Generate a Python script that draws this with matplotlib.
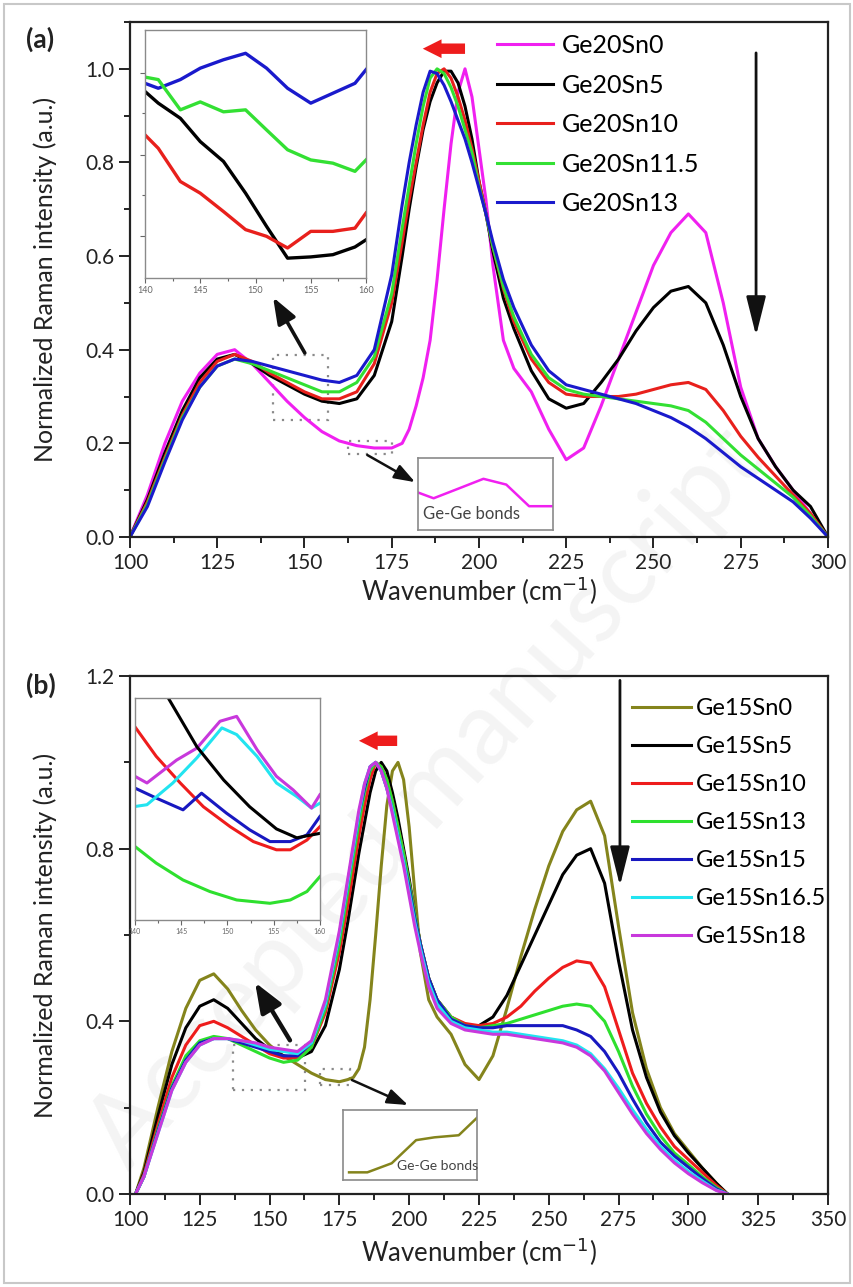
import matplotlib
matplotlib.use('Agg')
import matplotlib.pyplot as plt
from matplotlib.patches import Rectangle, FancyArrowPatch
from matplotlib.ticker import MultipleLocator

plt.rcParams['font.family'] = ['Lato', 'DejaVu Sans']

# ---------------- panel (a) data ----------------
x_a = [100, 105, 110, 115, 120, 125, 130, 135, 140, 145, 150, 155, 160, 165, 170, 175,
       178, 180, 182, 184, 186, 188, 190, 192, 194, 196, 198, 200, 202, 204, 207, 210,
       215, 220, 225, 230, 235, 240, 245, 250, 255, 260, 265, 270, 275, 280, 285, 290,
       295, 300]
ge20sn0 = [0.0, 0.09, 0.2, 0.29, 0.35, 0.39, 0.40, 0.37, 0.33, 0.29, 0.255, 0.225, 0.205,
           0.195, 0.19, 0.19, 0.2, 0.23, 0.28, 0.34, 0.42, 0.55, 0.70, 0.84, 0.95, 1.0,
           0.94, 0.83, 0.72, 0.58, 0.42, 0.36, 0.31, 0.23, 0.165, 0.19, 0.28, 0.38, 0.48,
           0.58, 0.65, 0.69, 0.65, 0.50, 0.32, 0.21, 0.15, 0.10, 0.05, 0.0]
ge20sn5 = [0.0, 0.08, 0.18, 0.27, 0.34, 0.38, 0.39, 0.37, 0.345, 0.325, 0.305, 0.29, 0.285,
           0.295, 0.345, 0.46, 0.6, 0.7, 0.79, 0.87, 0.93, 0.97, 0.995, 0.995, 0.97, 0.92,
           0.85, 0.76, 0.69, 0.61, 0.51, 0.445, 0.355, 0.295, 0.275, 0.285, 0.33, 0.38,
           0.44, 0.49, 0.525, 0.535, 0.5, 0.41, 0.3, 0.21, 0.15, 0.1, 0.065, 0.0]
ge20sn10 = [0.0, 0.075, 0.17, 0.26, 0.33, 0.375, 0.39, 0.375, 0.35, 0.33, 0.31, 0.295, 0.295,
            0.31, 0.37, 0.5, 0.63, 0.72, 0.8, 0.88, 0.95, 0.99, 1.0, 0.98, 0.94, 0.89, 0.83,
            0.76, 0.69, 0.62, 0.53, 0.46, 0.38, 0.33, 0.305, 0.3, 0.3, 0.3, 0.305, 0.315,
            0.325, 0.33, 0.315, 0.27, 0.215, 0.17, 0.13, 0.09, 0.05, 0.0]
ge20sn11_5 = [0.0, 0.07, 0.165, 0.255, 0.32, 0.365, 0.38, 0.37, 0.355, 0.34, 0.325, 0.31,
              0.31, 0.33, 0.385, 0.52, 0.66, 0.75, 0.84, 0.92, 0.98, 1.0, 0.99, 0.96, 0.92,
              0.87, 0.82, 0.75, 0.69, 0.62, 0.535, 0.47, 0.39, 0.34, 0.315, 0.305, 0.3,
              0.295, 0.29, 0.285, 0.28, 0.27, 0.245, 0.21, 0.175, 0.145, 0.115, 0.085,
              0.045, 0.0]
ge20sn13 = [0.0, 0.065, 0.16, 0.25, 0.32, 0.365, 0.38, 0.375, 0.365, 0.355, 0.345, 0.335,
            0.33, 0.345, 0.4, 0.56, 0.71, 0.8, 0.88, 0.95, 0.995, 0.99, 0.965, 0.93, 0.89,
            0.85, 0.8, 0.745, 0.69, 0.63, 0.55, 0.49, 0.41, 0.355, 0.325, 0.315, 0.305,
            0.295, 0.285, 0.27, 0.255, 0.235, 0.21, 0.18, 0.15, 0.125, 0.1, 0.075, 0.04, 0.0]
labels_a = ['Ge20Sn0', 'Ge20Sn5', 'Ge20Sn10', 'Ge20Sn11.5', 'Ge20Sn13']
colors_a = ['#f020f0', '#000000', '#e8201c', '#33e033', '#1a1acc']

# zoom inset (a), 140-160 cm-1, arbitrary units
xin_a = [140, 141.2, 143.2, 145, 147.1, 149.1, 151, 152.9, 155, 157, 159, 160]
in_a_blue = [0.785, 0.765, 0.80, 0.846, 0.88, 0.906, 0.846, 0.765, 0.705, 0.745, 0.785, 0.84]
in_a_green = [0.81, 0.80, 0.678, 0.71, 0.67, 0.678, 0.597, 0.517, 0.476, 0.463, 0.43, 0.476]
in_a_black = [0.752, 0.705, 0.644, 0.55, 0.47, 0.342, 0.208, 0.08, 0.085, 0.094, 0.125, 0.154]
in_a_red = [0.577, 0.523, 0.389, 0.342, 0.268, 0.195, 0.168, 0.121, 0.188, 0.188, 0.201, 0.262]

# Ge-Ge bonds inset (a)
xgg_a = [165, 166.5, 169, 171.3, 173.5, 175.7, 178]
ygg_a = [0.52, 0.44, 0.58, 0.71, 0.63, 0.33, 0.33]

# ---------------- panel (b) data ----------------
x_b = [102, 105, 110, 115, 120, 125, 130, 135, 140, 145, 150, 155, 160, 165, 170, 175,
       178, 180, 182, 184, 186, 188, 190, 192, 194, 196, 198, 200, 202, 204, 207, 210,
       215, 220, 225, 230, 235, 240, 245, 250, 255, 260, 265, 270, 275, 280, 285, 290,
       295, 300, 305, 310, 314]
ge15sn0 = [0.0, 0.06, 0.2, 0.33, 0.43, 0.495, 0.51, 0.475, 0.425, 0.38, 0.345, 0.32, 0.3,
           0.28, 0.265, 0.26, 0.265, 0.27, 0.29, 0.34, 0.45, 0.6, 0.76, 0.9, 0.98, 1.0,
           0.96, 0.85, 0.7, 0.56, 0.45, 0.41, 0.37, 0.3, 0.265, 0.32, 0.43, 0.55, 0.66,
           0.76, 0.84, 0.89, 0.91, 0.83, 0.62, 0.42, 0.29, 0.2, 0.14, 0.1, 0.06, 0.025, 0.0]
ge15sn5 = [0.0, 0.05, 0.18, 0.3, 0.385, 0.435, 0.45, 0.43, 0.395, 0.36, 0.335, 0.32, 0.315,
           0.33, 0.39, 0.52, 0.63, 0.71, 0.79, 0.86, 0.93, 0.98, 1.0, 0.98, 0.93, 0.87, 0.8,
           0.73, 0.65, 0.58, 0.5, 0.45, 0.41, 0.39, 0.39, 0.41, 0.46, 0.53, 0.6, 0.67,
           0.74, 0.785, 0.8, 0.72, 0.54, 0.38, 0.27, 0.19, 0.135, 0.095, 0.06, 0.025, 0.0]
ge15sn10 = [0.0, 0.045, 0.16, 0.27, 0.345, 0.39, 0.4, 0.385, 0.365, 0.345, 0.325, 0.315,
            0.315, 0.34, 0.42, 0.56, 0.67, 0.75, 0.83, 0.9, 0.96, 1.0, 0.99, 0.96, 0.91,
            0.85, 0.79, 0.72, 0.65, 0.58, 0.5, 0.45, 0.41, 0.395, 0.39, 0.395, 0.41, 0.435,
            0.47, 0.5, 0.525, 0.54, 0.535, 0.48, 0.38, 0.28, 0.21, 0.155, 0.11, 0.08,
            0.05, 0.02, 0.0]
ge15sn13 = [0.0, 0.04, 0.15, 0.25, 0.32, 0.355, 0.365, 0.36, 0.345, 0.33, 0.315, 0.305,
            0.31, 0.34, 0.43, 0.58, 0.7, 0.78, 0.86, 0.93, 0.98, 1.0, 0.99, 0.96, 0.91,
            0.85, 0.79, 0.72, 0.65, 0.58, 0.5, 0.45, 0.41, 0.39, 0.385, 0.39, 0.395, 0.405,
            0.415, 0.425, 0.435, 0.44, 0.435, 0.4, 0.33, 0.25, 0.185, 0.135, 0.095, 0.068,
            0.04, 0.015, 0.0]
ge15sn15 = [0.0, 0.04, 0.145, 0.245, 0.31, 0.35, 0.36, 0.36, 0.35, 0.34, 0.33, 0.32, 0.32,
            0.35, 0.44, 0.6, 0.72, 0.8, 0.88, 0.94, 0.99, 1.0, 0.98, 0.94, 0.89, 0.83,
            0.77, 0.71, 0.64, 0.58, 0.5, 0.45, 0.405, 0.39, 0.385, 0.385, 0.39, 0.39,
            0.39, 0.39, 0.39, 0.38, 0.365, 0.33, 0.28, 0.22, 0.165, 0.12, 0.088, 0.062,
            0.036, 0.012, 0.0]
ge15sn16_5 = [0.0, 0.04, 0.14, 0.24, 0.305, 0.345, 0.36, 0.36, 0.355, 0.345, 0.335, 0.33,
              0.325, 0.35, 0.44, 0.6, 0.72, 0.8, 0.88, 0.95, 0.99, 1.0, 0.98, 0.94, 0.89,
              0.83, 0.77, 0.7, 0.63, 0.57, 0.49, 0.44, 0.4, 0.385, 0.38, 0.375, 0.375,
              0.37, 0.365, 0.36, 0.355, 0.345, 0.325, 0.29, 0.245, 0.195, 0.15, 0.11,
              0.078, 0.052, 0.03, 0.009, 0.0]
ge15sn18 = [0.0, 0.04, 0.14, 0.24, 0.305, 0.345, 0.36, 0.36, 0.355, 0.35, 0.34, 0.335,
            0.33, 0.355, 0.45, 0.61, 0.73, 0.81, 0.89, 0.95, 0.99, 1.0, 0.98, 0.94, 0.88,
            0.82, 0.76, 0.69, 0.62, 0.56, 0.48, 0.43, 0.395, 0.38, 0.375, 0.37, 0.37,
            0.365, 0.36, 0.355, 0.35, 0.34, 0.32, 0.285, 0.235, 0.185, 0.14, 0.103, 0.072,
            0.047, 0.026, 0.008, 0.0]
labels_b = ['Ge15Sn0', 'Ge15Sn5', 'Ge15Sn10', 'Ge15Sn13', 'Ge15Sn15', 'Ge15Sn16.5', 'Ge15Sn18']
colors_b = ['#84841c', '#000000', '#ee1c1c', '#2ee02e', '#1818c0', '#22e4f0', '#c838dc']

# zoom inset (b), 140-160 cm-1, arbitrary units
xin_b_black = [143.6, 146.7, 149.6, 152.4, 155.3, 157.5, 160]
in_b_black = [1.0, 0.78, 0.63, 0.51, 0.41, 0.37, 0.39]
xin_b_red = [140, 142.3, 144.9, 147.4, 150.3, 152.8, 155.3, 156.8, 158.6, 160]
in_b_red = [0.87, 0.737, 0.617, 0.51, 0.42, 0.353, 0.316, 0.316, 0.36, 0.42]
xin_b_mag = [140, 141.3, 144.5, 146.7, 149.2, 151, 153.2, 155.3, 157.1, 159.1, 160]
in_b_mag = [0.647, 0.617, 0.72, 0.774, 0.895, 0.917, 0.767, 0.647, 0.586, 0.504, 0.564]
xin_b_cyan = [140, 141.3, 144.1, 146.7, 149.4, 151, 153.2, 155.3, 157.5, 159.1, 160]
in_b_cyan = [0.511, 0.519, 0.617, 0.73, 0.865, 0.835, 0.737, 0.617, 0.556, 0.504, 0.526]
xin_b_blue = [140, 142.3, 145.2, 147.2, 149.9, 152.4, 154.6, 156.8, 158.6, 160]
in_b_blue = [0.594, 0.549, 0.496, 0.571, 0.481, 0.406, 0.353, 0.353, 0.383, 0.466]
xin_b_green = [140, 142.3, 145.2, 148.1, 151, 154.6, 156.8, 158.6, 160]
in_b_green = [0.331, 0.256, 0.18, 0.128, 0.09, 0.075, 0.09, 0.128, 0.195]

# Ge-Ge bonds inset (b)
xgg_b = [168, 169.5, 171.5, 173.5, 175, 177, 178.5]
ygg_b = [0.11, 0.11, 0.24, 0.57, 0.61, 0.64, 0.89]

# ---------------- figure ----------------
fig = plt.figure(figsize=(8.54, 12.87), dpi=100)
fig.patches.append(Rectangle((0.005, 0.003), 0.99, 0.994, transform=fig.transFigure,
                             fill=False, ec='#c8c8c8', lw=1.5, zorder=-2))
fig.text(0.5, 0.38, 'Accepted manuscript', rotation=48, fontsize=74, color='#f4f4f4',
         ha='center', va='center', zorder=-1)


def style_main(ax, xmax, ymax, ymaj, ymin, xpad):
    ax.set_facecolor('none')
    ax.set_xlim(100, xmax)
    ax.set_ylim(0, ymax)
    ax.xaxis.set_major_locator(MultipleLocator(25))
    ax.xaxis.set_minor_locator(MultipleLocator(12.5))
    ax.yaxis.set_major_locator(MultipleLocator(ymaj))
    ax.yaxis.set_minor_locator(MultipleLocator(ymin))
    ax.tick_params(which='both', direction='out', top=False, right=False, width=1.4,
                   colors='#222222', labelsize=15)
    ax.tick_params(which='major', length=8)
    ax.tick_params(which='minor', length=4.5)
    for s in ax.spines.values():
        s.set_linewidth(1.6)
        s.set_color('#222222')
    ax.set_xlabel('Wavenumber (cm$^{-1}$)', fontsize=18.5, color='#222222', labelpad=xpad)
    ax.set_ylabel('Normalized Raman intensity (a.u.)', fontsize=18, color='#222222',
                  labelpad=20)


def style_inset(ax, x0, x1, labelsize):
    ax.set_xlim(x0, x1)
    ax.set_ylim(0, 1)
    ax.xaxis.set_major_locator(MultipleLocator(5))
    ax.xaxis.set_minor_locator(MultipleLocator(2.5))
    ax.tick_params(which='both', direction='out', labelsize=labelsize, colors='#666666',
                   width=0.8, pad=2)
    ax.tick_params(which='major', length=3.5)
    ax.tick_params(which='minor', length=2)
    for s in ax.spines.values():
        s.set_linewidth(1.0)
        s.set_color('#8a8a8a')


# ---------- panel (a) ----------
ax1 = fig.add_axes([0.1522, 0.5828, 0.8173, 0.4001])
style_main(ax1, 300, 1.1, 0.2, 0.1, 1)
for ys, lab, c in zip([ge20sn0, ge20sn5, ge20sn10, ge20sn11_5, ge20sn13], labels_a, colors_a):
    ax1.plot(x_a, ys, color=c, lw=2.2, label=lab, solid_joinstyle='round')
ax1.legend(loc='upper left', bbox_to_anchor=(0.493, 1.02), frameon=False, fontsize=18,
           handlelength=2.25, handletextpad=0.35, labelspacing=0.66, borderpad=0.4)

for (x0, y0, w, h) in [(141, 0.25, 15.7, 0.138), (162.5, 0.177, 12.5, 0.028)]:
    ax1.add_patch(Rectangle((x0, y0), w, h, fill=False, ls=(0, (1, 3)), lw=1.6,
                            ec='#8a8a8a'))
ax1.annotate('', xy=(141, 0.512), xytext=(150.1, 0.393),
             arrowprops=dict(arrowstyle='-|>,head_width=0.3,head_length=0.8', lw=2.6,
                             color='#111111', mutation_scale=20, shrinkA=0, shrinkB=0))
ax1.annotate('', xy=(181.7, 0.117), xytext=(168, 0.175),
             arrowprops=dict(arrowstyle='-|>,head_width=0.25,head_length=0.7', lw=1.8,
                             color='#111111', mutation_scale=18, shrinkA=0, shrinkB=0))
ax1.add_patch(FancyArrowPatch((196.8, 1.043), (183.1, 1.043), color='#ee1c1c',
                              arrowstyle='simple,head_width=0.9,head_length=0.9,tail_width=0.5',
                              mutation_scale=15, lw=0))
ax1.annotate('', xy=(279.4, 0.43), xytext=(279.4, 1.034),
             arrowprops=dict(arrowstyle='-|>,head_width=0.3,head_length=1.2', lw=2.0,
                             color='#111111', mutation_scale=20, shrinkA=0, shrinkB=0))
fig.text(0.03, 0.963, '(a)', fontsize=19, fontweight='bold', color='#222222')

ins_a = fig.add_axes([0.1698, 0.784, 0.2588, 0.1927])
style_inset(ins_a, 140, 160, 6.5)
ins_a.set_yticks([0.168, 0.497, 0.826])
ins_a.set_yticks([0.333, 0.665], minor=True)
ins_a.set_yticklabels([])
for xs, ys, c in [(xin_a, in_a_blue, colors_a[4]), (xin_a, in_a_green, colors_a[3]),
                  (xin_a, in_a_black, colors_a[1]), (xin_a, in_a_red, colors_a[2])]:
    ins_a.plot(xs, ys, color=c, lw=2.4)

gg_a = fig.add_axes([0.4895, 0.5882, 0.158, 0.056])
gg_a.set_xlim(165, 178)
gg_a.set_ylim(0, 1)
gg_a.set_xticks([])
gg_a.set_yticks([])
for s in gg_a.spines.values():
    s.set_color('#8a8a8a')
    s.set_linewidth(1.2)
gg_a.plot(xgg_a, ygg_a, color=colors_a[0], lw=1.8)
gg_a.text(0.04, 0.22, 'Ge-Ge bonds', transform=gg_a.transAxes, fontsize=12,
          color='#444444', va='center')

# ---------- panel (b) ----------
ax2 = fig.add_axes([0.1522, 0.0723, 0.8173, 0.4024])
style_main(ax2, 350, 1.2, 0.4, 0.2, 4)
for ys, lab, c in zip([ge15sn0, ge15sn5, ge15sn10, ge15sn13, ge15sn15, ge15sn16_5, ge15sn18],
                      labels_b, colors_b):
    ax2.plot(x_b, ys, color=c, lw=2.2, label=lab, solid_joinstyle='round')
ax2.legend(loc='upper left', bbox_to_anchor=(0.689, 0.998), frameon=False, fontsize=17,
           handlelength=2.5, handletextpad=0.2, labelspacing=0.72, borderpad=0.4)

for (x0, y0, w, h) in [(137, 0.24, 25.7, 0.105), (168, 0.252, 10.8, 0.038)]:
    ax2.add_patch(Rectangle((x0, y0), w, h, fill=False, ls=(0, (1, 3)), lw=1.6,
                            ec='#8a8a8a'))
ax2.annotate('', xy=(144.8, 0.49), xytext=(157.3, 0.356),
             arrowprops=dict(arrowstyle='-|>,head_width=0.35,head_length=0.9', lw=3.2,
                             color='#111111', mutation_scale=20, shrinkA=0, shrinkB=0))
ax2.annotate('', xy=(199.6, 0.206), xytext=(179.5, 0.264),
             arrowprops=dict(arrowstyle='-|>,head_width=0.25,head_length=0.7', lw=1.8,
                             color='#111111', mutation_scale=18, shrinkA=0, shrinkB=0))
ax2.add_patch(FancyArrowPatch((196.7, 1.05), (181, 1.05), color='#ee1c1c',
                              arrowstyle='simple,head_width=0.9,head_length=0.9,tail_width=0.5',
                              mutation_scale=15, lw=0))
ax2.annotate('', xy=(275.5, 0.714), xytext=(275.5, 1.19),
             arrowprops=dict(arrowstyle='-|>,head_width=0.3,head_length=1.2', lw=2.0,
                             color='#111111', mutation_scale=20, shrinkA=0, shrinkB=0))
fig.text(0.03, 0.461, '(b)', fontsize=19, fontweight='bold', color='#222222')

ins_b = fig.add_axes([0.158, 0.2852, 0.2166, 0.1725])
style_inset(ins_b, 140, 160, 5)
ins_b.set_yticks([])
for xs, ys, c in [(xin_b_green, in_b_green, colors_b[3]), (xin_b_red, in_b_red, colors_b[2]),
                  (xin_b_blue, in_b_blue, colors_b[4]), (xin_b_cyan, in_b_cyan, colors_b[5]),
                  (xin_b_mag, in_b_mag, colors_b[6]), (xin_b_black, in_b_black, colors_b[1])]:
    ins_b.plot(xs, ys, color=c, lw=2.2)

gg_b = fig.add_axes([0.4016, 0.0831, 0.157, 0.0544])
gg_b.set_xlim(167.5, 178.5)
gg_b.set_ylim(0, 1)
gg_b.set_xticks([])
gg_b.set_yticks([])
for s in gg_b.spines.values():
    s.set_color('#8a8a8a')
    s.set_linewidth(1.2)
gg_b.plot(xgg_b, ygg_b, color=colors_b[0], lw=1.8)
gg_b.text(0.4, 0.2, 'Ge-Ge bonds', transform=gg_b.transAxes, fontsize=10,
          color='#444444', va='center')

fig.savefig('out.png', dpi=100)
